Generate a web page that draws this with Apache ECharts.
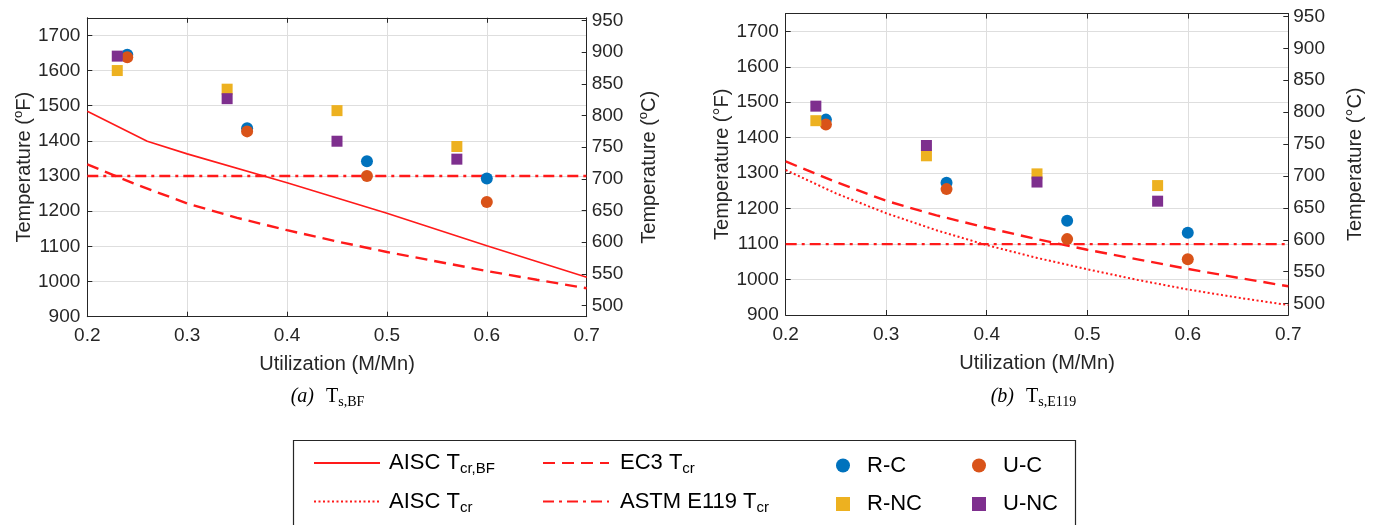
<!DOCTYPE html>
<html>
<head>
<meta charset="utf-8">
<script src="https://cdn.jsdelivr.net/npm/echarts@6/dist/echarts.min.js"></script>
<style>html,body{margin:0;padding:0;background:#fff}#c{width:1375px;height:525px}</style>
</head>
<body>
<div id="c"></div>
<script>
// ---------------- data ----------------
const xTickValues = [0.2, 0.3, 0.4, 0.5, 0.6, 0.7];
const tempFTicks = [900, 1000, 1100, 1200, 1300, 1400, 1500, 1600, 1700];
const tempCTicks = [500, 550, 600, 650, 700, 750, 800, 850, 900, 950];

// test points (utilization)
const utilCircle = [0.24, 0.36, 0.48, 0.60];
const utilSquare = [0.23, 0.34, 0.45, 0.57];

// panel (a) T_s,BF  [°F]
const rcA  = [1645, 1436, 1342, 1293];
const ucA  = [1638, 1427, 1300, 1226];
const rncA = [1600, 1547, 1486, 1384];
const uncA = [1641, 1520, 1399, 1348];

// panel (b) T_s,E119  [°F]
const rcB  = [1451, 1273, 1166, 1132];
const ucB  = [1437, 1255, 1114, 1057];
const rncB = [1448, 1349, 1298, 1265];
const uncB = [1489, 1378, 1275, 1221];

// design curves [°F]
const aiscBfUtil = [0.2, 0.26, 0.3, 0.4, 0.5, 0.6, 0.7];
const aiscBfTemp = [1484, 1399, 1363, 1281, 1194, 1102, 1012];
const ec3Util = [0.2, 0.25, 0.3, 0.35, 0.4, 0.45, 0.5, 0.55, 0.6, 0.65, 0.7];
const ec3Temp = [1333, 1275, 1222, 1181, 1146, 1114, 1084, 1057, 1030, 1005, 981];
const aiscUtil = [0.2, 0.25, 0.3, 0.35, 0.4, 0.45, 0.5, 0.55, 0.6, 0.65, 0.7];
const aiscTemp = [1309, 1243, 1187, 1139, 1097, 1061, 1029, 999, 972, 949, 928];
const e119Util = [0.2, 0.7];
const e119TempA = [1300, 1300];
const e119TempB = [1100, 1100];

// axis ranges
const fMin = 900, fMax = 1750;
const toC = f => (f - 32) * 5 / 9;

// ---------------- styling ----------------
const FONT = 'Liberation Sans, Arial, Helvetica, sans-serif';
const SERIF = 'Liberation Serif, Times New Roman, serif';
const INK = '#262626';
const GRIDC = '#dedede';
const RED = '#ff1a1a';
const COL = { rc: '#0072BD', uc: '#D95319', rnc: '#EDB120', unc: '#7E2F8E' };

const pairs = (xs, ys) => xs.map((x, i) => [x, ys[i]]);

const grids = [
  { left: 87.3, top: 17.8, width: 499.4, height: 298.9, outerBoundsMode: 'none' },
  { left: 785.7, top: 13.6, width: 502.6, height: 301.4, outerBoundsMode: 'none' }
];

function xBottom(g) {
  return {
    type: 'value', gridIndex: g, position: 'bottom', min: 0.2, max: 0.7, interval: 0.1,
    name: 'Utilization (M/Mn)', nameLocation: 'middle', nameGap: 38,
    nameTextStyle: { fontSize: 20, color: INK, fontFamily: FONT },
    axisLine: { show: true, onZero: false, lineStyle: { color: INK, width: 1 } },
    axisTick: { show: true, inside: true, length: 5, lineStyle: { color: INK } },
    axisLabel: { fontSize: 19, color: INK, fontFamily: FONT, margin: 10, formatter: v => v.toFixed(1) },
    splitLine: { show: true, lineStyle: { color: GRIDC, width: 1 } }
  };
}
function xTop(g) {
  return {
    type: 'value', gridIndex: g, position: 'top', min: 0.2, max: 0.7, interval: 0.1,
    axisLine: { show: true, onZero: false, lineStyle: { color: INK, width: 1 } },
    axisTick: { show: true, inside: true, length: 5, lineStyle: { color: INK } },
    axisLabel: { show: false }, splitLine: { show: false }
  };
}
const supRich = { sup: { fontSize: 13, fontFamily: FONT, color: INK, padding: [0, 0, 12, 0] } };
function yLeft(g, name, gap) {
  return {
    type: 'value', gridIndex: g, position: 'left', min: fMin, max: fMax, interval: 100,
    name: name, nameLocation: 'middle', nameGap: gap,
    nameTextStyle: { fontSize: 20, color: INK, fontFamily: FONT, rich: supRich },
    axisLine: { show: true, onZero: false, lineStyle: { color: INK, width: 1 } },
    axisTick: { show: true, inside: true, length: 5, lineStyle: { color: INK } },
    axisLabel: { fontSize: 19, color: INK, fontFamily: FONT, margin: 7, showMaxLabel: false,
      formatter: v => String(Math.round(v)) },
    splitLine: { show: true, lineStyle: { color: GRIDC, width: 1 } }
  };
}
function yRight(g, name, gap) {
  return {
    type: 'value', gridIndex: g, position: 'right', min: toC(fMin), max: toC(fMax),
    name: name, nameLocation: 'middle', nameGap: gap,
    nameTextStyle: { fontSize: 20, color: INK, fontFamily: FONT, rich: supRich },
    axisLine: { show: true, onZero: false, lineStyle: { color: INK, width: 1 } },
    axisTick: { show: true, inside: true, length: 5, lineStyle: { color: INK }, customValues: tempCTicks },
    axisLabel: { fontSize: 19, color: INK, fontFamily: FONT, margin: 5, customValues: tempCTicks,
      formatter: v => String(Math.round(v)) },
    splitLine: { show: false }
  };
}

const lsSolid = { color: RED, width: 1.6, type: 'solid' };
const lsDash = { color: RED, width: 2.4, type: [12, 7] };
const lsDot = { color: RED, width: 2, type: [2, 2.5] };
const lsDashDot = { color: RED, width: 2.4, type: [11, 5, 3, 5] };

function lineSeries(name, xi, yi, data, ls) {
  return {
    type: 'line', name, xAxisIndex: xi, yAxisIndex: yi, data, symbol: 'circle', symbolSize: 0, showSymbol: false,
    lineStyle: ls, itemStyle: { color: RED }, smooth: false,
    z: 2, silent: true, clip: true
  };
}
function scatterSeries(name, xi, yi, data, symbol, size, color) {
  return {
    type: 'scatter', name, xAxisIndex: xi, yAxisIndex: yi, data, symbol, symbolSize: size,
    itemStyle: { color, opacity: 1 }, z: 5, silent: true
  };
}

const series = [
  // panel (a)
  lineSeries('AISC Tcr,BF', 0, 0, pairs(aiscBfUtil, aiscBfTemp), lsSolid),
  lineSeries('EC3 Tcr', 0, 0, pairs(ec3Util, ec3Temp), lsDash),
  lineSeries('ASTM E119 Tcr', 0, 0, pairs(e119Util, e119TempA), lsDashDot),
  scatterSeries('R-C', 0, 0, pairs(utilCircle, rcA), 'circle', 12, COL.rc),
  scatterSeries('U-C', 0, 0, pairs(utilCircle, ucA), 'circle', 12, COL.uc),
  scatterSeries('R-NC', 0, 0, pairs(utilSquare, rncA), 'rect', 11, COL.rnc),
  scatterSeries('U-NC', 0, 0, pairs(utilSquare, uncA), 'rect', 11, COL.unc),
  // panel (b)
  lineSeries('EC3 Tcr', 2, 2, pairs(ec3Util, ec3Temp), lsDash),
  lineSeries('AISC Tcr', 2, 2, pairs(aiscUtil, aiscTemp), lsDot),
  lineSeries('ASTM E119 Tcr', 2, 2, pairs(e119Util, e119TempB), lsDashDot),
  scatterSeries('R-C', 2, 2, pairs(utilCircle, rcB), 'circle', 12, COL.rc),
  scatterSeries('U-C', 2, 2, pairs(utilCircle, ucB), 'circle', 12, COL.uc),
  scatterSeries('R-NC', 2, 2, pairs(utilSquare, rncB), 'rect', 11, COL.rnc),
  scatterSeries('U-NC', 2, 2, pairs(utilSquare, uncB), 'rect', 11, COL.unc)
];

// ---------------- legend ----------------
const legendLabel = {
  'AISC Tcr,BF': '{m|AISC T}{s|cr,BF}',
  'AISC Tcr': '{m|AISC T}{s|cr}',
  'EC3 Tcr': '{m|EC3 T}{s|cr}',
  'ASTM E119 Tcr': '{m|ASTM E119 T}{s|cr}',
  'R-C': '{m|R-C}', 'U-C': '{m|U-C}', 'R-NC': '{m|R-NC}', 'U-NC': '{m|U-NC}'
};
function leg(name, left, top, w, h, padL, isLine) {
  const o = {
    show: true, data: [name], left, top, orient: 'horizontal', itemWidth: w, itemHeight: h,
    padding: 0, selectedMode: false,
    formatter: n => legendLabel[n],
    textStyle: {
      color: '#000', fontFamily: FONT, fontSize: 22,
      rich: {
        m: { fontSize: 22, fontFamily: FONT, color: '#000', padding: [0, 0, 0, padL] },
        s: { fontSize: 15, fontFamily: FONT, color: '#000', padding: [12, 0, 0, 0] }
      }
    }
  };
  if (isLine) o.itemStyle = { opacity: 0, borderWidth: 0 };
  return o;
}
const row1 = 465.5, row2 = 504;
const legends = [
  leg('AISC Tcr,BF', 313, row1 - 13.5, 66, 14, 4, true),
  leg('AISC Tcr', 313, row2 - 13.5, 66, 14, 4, true),
  leg('EC3 Tcr', 542, row1 - 13.5, 66, 14, 6, true),
  leg('ASTM E119 Tcr', 542, row2 - 13.5, 66, 14, 6, true),
  leg('R-C', 836, row1 - 11, 14, 14, 12, false),
  leg('R-NC', 836, row2 - 11, 14, 14, 12, false),
  leg('U-C', 972, row1 - 11, 14, 14, 12, false),
  leg('U-NC', 972, row2 - 11, 14, 14, 12, false)
];

// ---------------- captions / frame ----------------
const capRich = {
  i: { fontFamily: SERIF, fontSize: 20, fontStyle: 'italic', fill: '#000', color: '#000' },
  n: { fontFamily: SERIF, fontSize: 20, fill: '#000', color: '#000', padding: [0, 0, 0, 12] },
  s: { fontFamily: SERIF, fontSize: 14, fill: '#000', color: '#000', padding: [11, 0, 0, 0] }
};
const graphic = [
  { type: 'rect', silent: true, shape: { x: 293.5, y: 440.5, width: 782, height: 120 },
    style: { fill: 'none', stroke: INK, lineWidth: 1.2 } },
  { type: 'text', silent: true, x: 290.7, y: 396.5,
    style: { text: '{i|(a)}{n|T}{s|s,BF}', rich: capRich, verticalAlign: 'middle', align: 'left', fill: '#000' } },
  { type: 'text', silent: true, x: 990.7, y: 396.5,
    style: { text: '{i|(b)}{n|T}{s|s,E119}', rich: capRich, verticalAlign: 'middle', align: 'left', fill: '#000' } }
];

const chart = echarts.init(document.getElementById('c'), null, { renderer: 'canvas' });
chart.setOption({
  animation: false,
  backgroundColor: '#fff',
  grid: grids,
  xAxis: [xBottom(0), xTop(0), xBottom(1), xTop(1)],
  yAxis: [
    yLeft(0, 'Temperature ({sup|o}F)', 48),
    yRight(0, 'Temperature ({sup|o}C)', 50),
    yLeft(1, 'Temperature (°F)', 51),
    yRight(1, 'Temperature (°C)', 57)
  ],
  legend: legends,
  series,
  graphic
});
</script>
</body>
</html>
